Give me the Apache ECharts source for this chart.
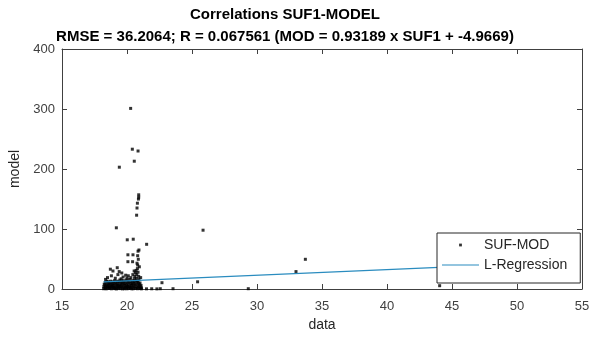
<!DOCTYPE html>
<html>
<head>
<meta charset="utf-8">
<title>Correlations SUF1-MODEL</title>
<script src="https://cdn.jsdelivr.net/npm/echarts@6/dist/echarts.min.js"></script>
<style>
  html, body { margin: 0; padding: 0; background: #fff; }
  #chart { width: 593px; height: 339px; }
</style>
</head>
<body>
<div id="chart"></div>
<script>
// title lines (as in the figure)
const titleLines = [
  'Correlations SUF1-MODEL',
  'RMSE = 36.2064; R = 0.067561 (MOD = 0.93189 x SUF1 + -4.9669)'
];
const seriesNames = ['SUF-MOD', 'L-Regression'];

// axis ticks
const xTicks = [15, 20, 25, 30, 35, 40, 45, 50, 55];
const yTicks = [0, 100, 200, 300, 400];

// dense band of points near the bottom (SUF1, MOD)
const denseCluster = [
  [18.2, 0.5], [18.22, 4], [18.25, 8],
  [18.3, 1], [18.31, 6], [18.33, 11], [18.35, 3],
  [18.4, 0.3], [18.42, 7], [18.45, 13], [18.47, 4],
  [18.5, 2], [18.52, 9], [18.55, 5], [18.58, 12],
  [18.6, 0.8], [18.62, 6], [18.65, 10], [18.68, 3],
  [18.7, 1.5], [18.72, 8], [18.75, 13], [18.78, 5],
  [18.8, 0.4], [18.83, 4], [18.85, 10], [18.88, 7],
  [18.9, 2.5], [18.92, 12], [18.95, 6], [18.98, 1],
  [19.0, 9], [19.02, 3], [19.05, 14], [19.08, 0.6],
  [19.1, 5], [19.12, 11], [19.15, 1.8], [19.18, 8],
  [19.2, 0.2], [19.23, 6], [19.25, 13], [19.28, 3.5],
  [19.3, 9], [19.32, 1], [19.35, 5], [19.38, 12],
  [19.4, 2], [19.42, 7], [19.45, 15], [19.48, 4],
  [19.5, 0.7], [19.52, 10], [19.55, 6], [19.58, 13],
  [19.6, 3], [19.62, 8], [19.65, 0.3], [19.68, 11],
  [19.7, 5], [19.72, 14], [19.75, 1.5], [19.78, 9],
  [19.8, 0.5], [19.82, 6], [19.85, 12], [19.88, 3],
  [19.9, 8], [19.92, 2], [19.95, 15], [19.98, 5],
  [20.0, 0.4], [20.02, 10], [20.05, 4], [20.08, 13],
  [20.1, 7], [20.12, 1], [20.15, 11], [20.18, 3],
  [20.2, 16], [20.22, 5], [20.25, 0.8], [20.28, 9],
  [20.3, 2.5], [20.32, 12], [20.35, 6], [20.38, 0.3],
  [20.4, 8], [20.42, 14], [20.45, 3], [20.48, 10],
  [20.5, 0.6], [20.52, 6], [20.55, 12], [20.58, 17],
  [20.6, 4], [20.62, 9], [20.65, 1], [20.68, 14],
  [20.7, 7], [20.72, 18], [20.75, 2], [20.78, 11],
  [20.8, 0.5], [20.82, 5], [20.85, 13], [20.88, 9],
  [20.9, 3], [20.92, 16], [20.95, 7], [20.98, 1],
  [21.0, 10], [21.02, 4], [21.05, 0.7], [21.08, 6],
  [21.1, 2], [21.12, 0.4]
];

// scattered points above the band, 15 .. 40
const lowScatter = [
  [18.72, 33], [18.92, 30], [19.25, 35.5], [19.4, 29], [19.6, 26.7],
  [19.9, 23], [20.1, 22], [18.5, 19], [18.8, 22], [19.1, 18],
  [19.3, 24], [19.7, 20], [20.3, 19], [20.45, 24], [20.6, 21],
  [20.65, 27], [20.7, 31], [20.75, 24], [20.8, 34], [20.85, 28],
  [20.9, 21], [20.95, 37], [20.82, 40], [20.55, 30], [20.0, 18],
  [19.55, 17], [18.35, 16], [21.05, 19]
];

// taller points in the 20..21 column and outliers
const upperPoints = [
  [20.28, 301], [20.41, 233], [20.85, 230], [20.56, 213], [19.41, 203],
  [20.9, 157], [20.9, 153], [20.88, 150], [20.8, 143], [20.77, 135],
  [20.74, 123], [19.18, 102], [20.02, 82], [20.48, 83], [21.51, 74.5],
  [20.92, 65], [20.85, 63], [20.07, 57], [20.46, 57], [20.82, 55.5],
  [20.87, 49.5], [20.07, 45.5], [20.43, 45.5], [20.77, 43]
];

// points away from the cluster
const farPoints = [
  [21.5, 0.3], [21.9, 0.4], [22.3, 0.2], [22.56, 0.5], [22.69, 10.5],
  [23.54, 0.5], [25.43, 12], [25.85, 98], [29.33, 0.5], [33.0, 29],
  [33.72, 49.5], [44.05, 5.5], [51.1, 21.7]
];

// regression line end points
const regX = [18.2, 51.1];
const regY = [12.0, 42.7];

const sufMod = denseCluster.concat(lowScatter, upperPoints, farPoints);
const regLine = regX.map((x, i) => [x, regY[i]]);

const axisGrey = '#404040';
const regColor = '#2a8cbf';
const fontFam = 'Liberation Sans, Arial, Helvetica, sans-serif';

const chart = echarts.init(document.getElementById('chart'));

const baseX = {
  type: 'value',
  min: xTicks[0],
  max: xTicks[xTicks.length - 1],
  interval: 5,
  splitLine: { show: false },
  axisLine: { show: true, onZero: false, lineStyle: { color: axisGrey, width: 1 } },
  axisTick: { show: true, inside: true, length: 5, lineStyle: { color: axisGrey } }
};
const baseY = {
  type: 'value',
  min: yTicks[0],
  max: yTicks[yTicks.length - 1],
  interval: 100,
  splitLine: { show: false },
  axisLine: { show: true, onZero: false, lineStyle: { color: axisGrey, width: 1 } },
  axisTick: { show: true, inside: true, length: 5, lineStyle: { color: axisGrey } }
};

const option = {
  animation: false,
  backgroundColor: '#fff',
  textStyle: { fontFamily: fontFam },
  grid: { left: 62, right: 11, top: 49, bottom: 50, containLabel: false },
  graphic: [
    {
      type: 'text', x: 285, y: 7,
      style: { text: titleLines[0], font: 'bold 15px ' + fontFam, fill: '#000', textAlign: 'center' }
    },
    {
      type: 'text', x: 285, y: 29,
      style: { text: titleLines[1], font: 'bold 15px ' + fontFam, fill: '#000', textAlign: 'center' }
    }
  ],
  legend: {
    orient: 'vertical',
    left: 437,
    top: 233,
    align: 'left',
    z: 20,
    backgroundColor: '#fff',
    borderColor: '#262626',
    borderWidth: 1,
    borderRadius: 0,
    padding: [5, 13, 11, 5],
    itemWidth: 37,
    itemHeight: 14,
    itemGap: 6,
    textStyle: { fontSize: 14, color: '#262626', fontFamily: fontFam },
    data: [
      { name: seriesNames[0], icon: 'path://M0,0M10,10M4,4h2v2h-2z', itemStyle: { color: '#000' } },
      { name: seriesNames[1], icon: 'path://M0,0h37v1.2h-37z', itemStyle: { color: regColor } }
    ]
  },
  xAxis: [
    Object.assign({}, baseX, {
      position: 'bottom',
      name: 'data',
      nameLocation: 'middle',
      nameGap: 29,
      nameTextStyle: { fontSize: 14, color: '#262626' },
      axisLabel: { color: axisGrey, fontSize: 13, margin: 11 }
    }),
    Object.assign({}, baseX, { position: 'top', axisLabel: { show: false } })
  ],
  yAxis: [
    Object.assign({}, baseY, {
      position: 'left',
      name: 'model',
      nameLocation: 'middle',
      nameGap: 33,
      nameTextStyle: { fontSize: 14, color: '#262626' },
      axisLabel: { color: axisGrey, fontSize: 13, margin: 7 }
    }),
    Object.assign({}, baseY, { position: 'right', axisLabel: { show: false } })
  ],
  series: [
    {
      name: seriesNames[0],
      type: 'scatter',
      data: sufMod,
      symbol: 'rect',
      symbolSize: 3,
      itemStyle: { color: '#000' },
      z: 2
    },
    {
      name: seriesNames[1],
      type: 'line',
      data: regLine,
      symbol: 'none',
      lineStyle: { color: regColor, width: 1.2 },
      itemStyle: { color: regColor },
      z: 3
    }
  ]
};

chart.setOption(option);
</script>
</body>
</html>
